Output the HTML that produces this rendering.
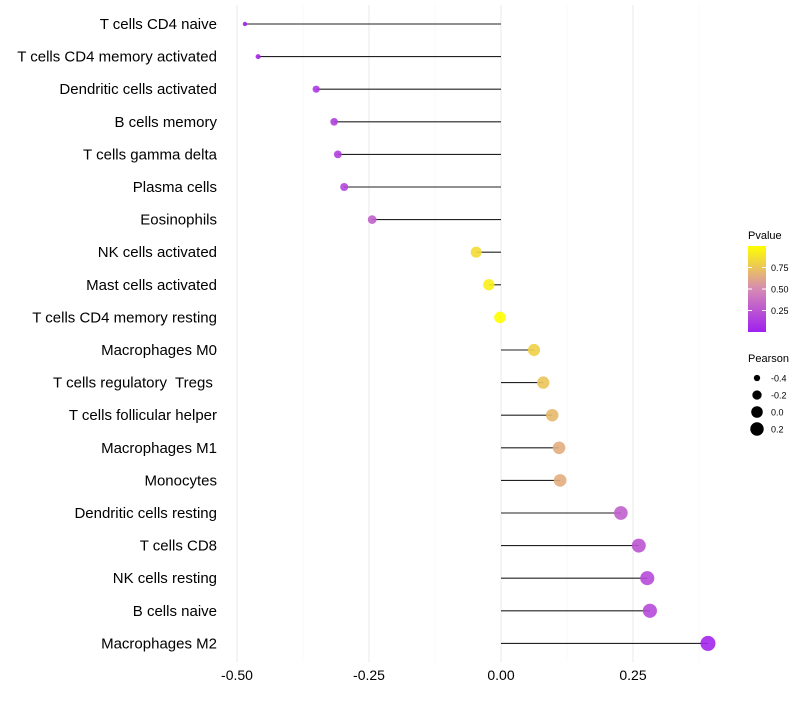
<!DOCTYPE html>
<html><head><meta charset="utf-8"><style>
body{margin:0;background:#fff;font-family:"Liberation Sans",sans-serif}
svg text{font-family:"Liberation Sans",sans-serif;white-space:pre}
</style></head><body>
<svg id="c" width="800" height="700"></svg>
<script>
const categories=["T cells CD4 naive","T cells CD4 memory activated","Dendritic cells activated","B cells memory","T cells gamma delta","Plasma cells","Eosinophils","NK cells activated","Mast cells activated","T cells CD4 memory resting","Macrophages M0","T cells regulatory  Tregs ","T cells follicular helper","Macrophages M1","Monocytes","Dendritic cells resting","T cells CD8","NK cells resting","B cells naive","Macrophages M2"];
const pearson=[-0.485,-0.46,-0.35,-0.316,-0.309,-0.297,-0.244,-0.047,-0.023,-0.002,0.0625,0.08,0.097,0.11,0.112,0.227,0.261,0.277,0.282,0.392];
const pvalue=[0.0,0.03,0.12,0.15,0.15,0.18,0.3,0.85,0.93,1.0,0.8,0.75,0.7,0.65,0.65,0.3,0.25,0.2,0.2,0.03];
const xTicks=[-0.5,-0.25,0,0.25];
const xTickLabels=["-0.50","-0.25","0.00","0.25"];
const cbTicks=[0.25,0.5,0.75];
const sizeLegend=[-0.4,-0.2,0.0,0.2];
const NS="http://www.w3.org/2000/svg";
const svg=document.getElementById('c');
function mk(t,a,p){const e=document.createElementNS(NS,t);for(const k in a)e.setAttribute(k,a[k]);(p||svg).appendChild(e);return e;}
const x=v=>501+528*v;
const y=i=>24+i*32.6;
const r=v=>Math.sqrt(Math.max(1,33.4+58.8*v));
function lerp(a,b,t){return Math.round(a+(b-a)*t);}
function col(p){const s=[[160,32,240],[214,138,180],[255,255,0]];let t=p*2,i=0;if(t>1){i=1;t-=1;}const A=s[i],B=s[i+1];return `rgb(${lerp(A[0],B[0],t)},${lerp(A[1],B[1],t)},${lerp(A[2],B[2],t)})`;}
for(let v=-0.5;v<=0.376;v+=0.125){const maj=Math.abs((v*4)%1)<1e-6;const g=mk('line',{x1:x(v),x2:x(v),y1:5,y2:662,stroke:maj?'#ebebeb':'#f4f4f4','stroke-width':maj?1.1:0.6});

}
xTicks.forEach((v,i)=>{const t=mk('text',{x:x(v),y:680,'text-anchor':'middle','font-size':14,fill:'#000'});t.textContent=xTickLabels[i];

});
categories.forEach((c,i)=>{
const t=mk('text',{x:217,y:y(i)+5,'text-anchor':'end','font-size':15,fill:'#000','xml:space':'preserve'});t.textContent=c;


const l=mk('line',{x1:x(0),x2:x(pearson[i]),y1:y(i),y2:y(i),stroke:'#222','stroke-width':1.1});


const d=mk('circle',{cx:x(pearson[i]),cy:y(i),r:r(pearson[i]),fill:col(pvalue[i]),'fill-opacity':0.9});


});
const defs=mk('defs',{});const gr=mk('linearGradient',{id:'g',x1:0,y1:1,x2:0,y2:0},defs);
[0,0.25,0.5,0.75,1].forEach(p=>mk('stop',{offset:p,'stop-color':col(p)},gr));
const lt=mk('text',{x:748,y:239,'font-size':11});lt.textContent='Pvalue';


const cb=mk('rect',{x:748,y:246,width:18,height:86,fill:'url(#g)'});


const cy=p=>332-86*p;
cbTicks.forEach(p=>{mk('line',{x1:748,x2:752,y1:cy(p),y2:cy(p),stroke:'#fff'});mk('line',{x1:762,x2:766,y1:cy(p),y2:cy(p),stroke:'#fff'});
const t=mk('text',{x:771,y:cy(p)+3.5,'font-size':9});t.textContent=p.toFixed(2);

});
const st=mk('text',{x:748,y:362,'font-size':11});st.textContent='Pearson';


sizeLegend.forEach((v,i)=>{const yy=378+i*17;
const c=mk('circle',{cx:757,cy:yy,r:r(v),fill:'#000'});


const t=mk('text',{x:771,y:yy+3.5,'font-size':9});t.textContent=v.toFixed(1);

});
</script>
</body></html>
